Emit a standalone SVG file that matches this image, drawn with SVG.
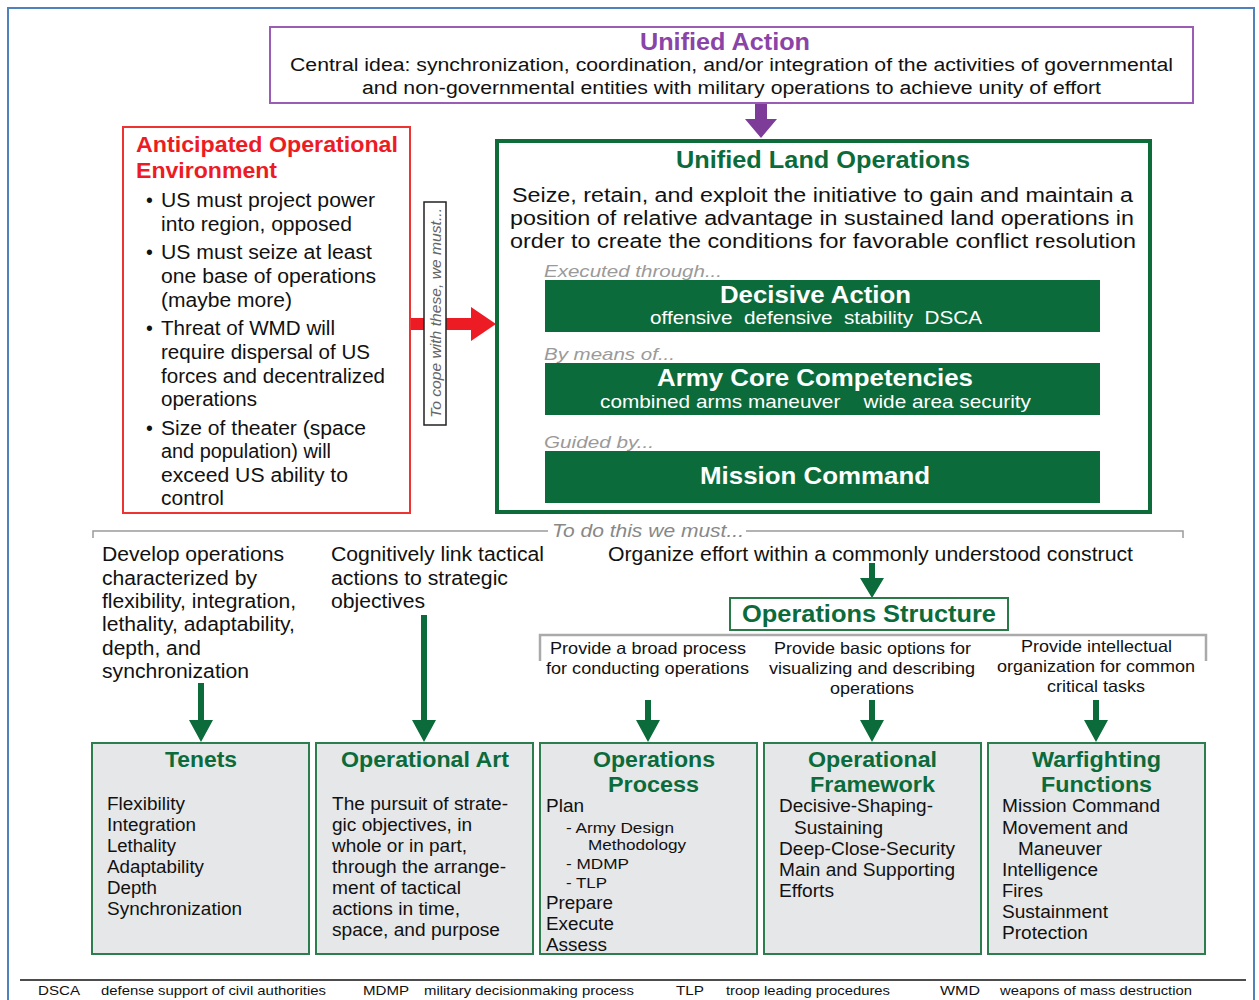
<svg xmlns="http://www.w3.org/2000/svg" width="1259" height="1000" viewBox="0 0 1259 1000">
<style>
text{font-family:"Liberation Sans",Arial,Helvetica,sans-serif;fill:#111}
.b{font-weight:bold}
.it{font-style:italic;fill:#9a9a9a}
.ua{fill:#8a44a8}
.red{fill:#ed1c24}
.gr{fill:#0b6b3a}
.w{fill:#fff}
.bar{fill:#0b6b3a}
.bx{fill:#e6e7e8;stroke:#2e7d4f;stroke-width:2}
.ga{fill:#0b6b3a}
.s195{font-size:19.5px}
.s18{font-size:18px}
.s175{font-size:17.5px}
.s165{font-size:16.5px}
.s135{font-size:13.5px}
</style>
<rect x="8" y="8" width="1246" height="1010" fill="#fff" stroke="#4f81bd" stroke-width="2"/>

<g id="connectors">
  <polygon points="755,103 767,103 767,119 777,119 761,138 745,119 755,119" fill="#7d3c98"/>
  <polygon points="410,318 471,318 471,307 496,324 471,341 471,330 410,330" fill="#ed1c24"/>
  <path d="M93,538 V531 H548 M746,531 H1183 V538" fill="none" stroke="#9a9a9a" stroke-width="1.5"/>
  <path d="M540,661 V635 H1206 V661" fill="none" stroke="#aaaaaa" stroke-width="2.5"/>
  <polygon class="ga" points="869,563 875,563 875,578 884,578 872,598 860,578 869,578"/>
  <polygon class="ga" points="198,683 204,683 204,720 213,720 201,742 189,720 198,720"/>
  <polygon class="ga" points="421,615 427,615 427,720 436,720 424,742 412,720 421,720"/>
  <polygon class="ga" points="645,700 651,700 651,720 660,720 648,742 636,720 645,720"/>
  <polygon class="ga" points="869,700 875,700 875,720 884,720 872,742 860,720 869,720"/>
  <polygon class="ga" points="1093,700 1099,700 1099,720 1108,720 1096,742 1084,720 1093,720"/>
</g>

<g id="unified-action">
  <rect x="270" y="27" width="923" height="76" fill="#fff" stroke="#9a5cb4" stroke-width="2"/>
  <text class="b ua" x="640" y="50" font-size="23" textLength="170" lengthAdjust="spacingAndGlyphs">Unified Action</text>
  <text class="s18" x="290" y="71" textLength="883" lengthAdjust="spacingAndGlyphs">Central idea: synchronization, coordination, and/or integration of the activities of governmental</text>
  <text class="s18" x="362" y="94" textLength="739" lengthAdjust="spacingAndGlyphs">and non-governmental entities with military operations to achieve unity of effort</text>
</g>

<g id="anticipated-oe">
  <rect x="123" y="127" width="287" height="386" fill="#fff" stroke="#ee3333" stroke-width="2"/>
  <text class="b red" x="136" y="152" font-size="22" textLength="262" lengthAdjust="spacingAndGlyphs">Anticipated Operational</text>
  <text class="b red" x="136" y="178" font-size="22" textLength="141" lengthAdjust="spacingAndGlyphs">Environment</text>
  <g class="s195">
    <text x="146" y="207">•</text><text x="146" y="259">•</text><text x="146" y="335">•</text><text x="146" y="435">•</text>
    <text x="161" y="207" textLength="214" lengthAdjust="spacingAndGlyphs">US must project power</text>
    <text x="161" y="231" textLength="191" lengthAdjust="spacingAndGlyphs">into region, opposed</text>
    <text x="161" y="259" textLength="211" lengthAdjust="spacingAndGlyphs">US must seize at least</text>
    <text x="161" y="283" textLength="215" lengthAdjust="spacingAndGlyphs">one base of operations</text>
    <text x="161" y="307" textLength="131" lengthAdjust="spacingAndGlyphs">(maybe more)</text>
    <text x="161" y="335" textLength="174" lengthAdjust="spacingAndGlyphs">Threat of WMD will</text>
    <text x="161" y="359" textLength="209" lengthAdjust="spacingAndGlyphs">require dispersal of US</text>
    <text x="161" y="383" textLength="224" lengthAdjust="spacingAndGlyphs">forces and decentralized</text>
    <text x="161" y="406" textLength="96" lengthAdjust="spacingAndGlyphs">operations</text>
    <text x="161" y="435" textLength="205" lengthAdjust="spacingAndGlyphs">Size of theater (space</text>
    <text x="161" y="458" textLength="170" lengthAdjust="spacingAndGlyphs">and population) will</text>
    <text x="161" y="482" textLength="187" lengthAdjust="spacingAndGlyphs">exceed US ability to</text>
    <text x="161" y="505" textLength="63" lengthAdjust="spacingAndGlyphs">control</text>
  </g>
</g>

<g id="cope-label">
  <rect x="424" y="202" width="22" height="223" fill="#fff" stroke="#222" stroke-width="1.5"/>
  <text transform="translate(441,313) rotate(-90)" text-anchor="middle" font-size="15" font-style="italic" style="fill:#666" textLength="210" lengthAdjust="spacingAndGlyphs">To cope with these, we must...</text>
</g>

<g id="unified-land-operations">
  <rect x="497" y="141" width="653" height="371" fill="none" stroke="#0e6b3a" stroke-width="4"/>
  <text class="b gr" x="676" y="168" font-size="23" textLength="294" lengthAdjust="spacingAndGlyphs">Unified Land Operations</text>
  <text x="512" y="202" font-size="20" textLength="621" lengthAdjust="spacingAndGlyphs">Seize, retain, and exploit the initiative to gain and maintain a</text>
  <text x="510" y="225" font-size="20" textLength="624" lengthAdjust="spacingAndGlyphs">position of relative advantage in sustained land operations in</text>
  <text x="510" y="248" font-size="20" textLength="626" lengthAdjust="spacingAndGlyphs">order to create the conditions for favorable conflict resolution</text>
</g>

<g id="decisive-action">
  <text class="it" x="544" y="277" font-size="17" textLength="178" lengthAdjust="spacingAndGlyphs">Executed through...</text>
  <rect class="bar" x="545" y="280" width="555" height="52"/>
  <text class="b w" x="720" y="303" font-size="24" textLength="191" lengthAdjust="spacingAndGlyphs">Decisive Action</text>
  <text class="w" x="650" y="324" font-size="19" textLength="332" lengthAdjust="spacingAndGlyphs" xml:space="preserve">offensive  defensive  stability  DSCA</text>
</g>

<g id="army-core-competencies">
  <text class="it" x="544" y="360" font-size="17" textLength="131" lengthAdjust="spacingAndGlyphs">By means of...</text>
  <rect class="bar" x="545" y="363" width="555" height="52"/>
  <text class="b w" x="657" y="386" font-size="24" textLength="316" lengthAdjust="spacingAndGlyphs">Army Core Competencies</text>
  <text class="w" x="600" y="408" font-size="19" textLength="431" lengthAdjust="spacingAndGlyphs" xml:space="preserve">combined arms maneuver    wide area security</text>
</g>

<g id="mission-command">
  <text class="it" x="544" y="448" font-size="17" textLength="110" lengthAdjust="spacingAndGlyphs">Guided by...</text>
  <rect class="bar" x="545" y="451" width="555" height="52"/>
  <text class="b w" x="700" y="484" font-size="24" textLength="230" lengthAdjust="spacingAndGlyphs">Mission Command</text>
</g>

<g id="to-do-this">
  <text x="552" y="537" font-size="18" font-style="italic" style="fill:#888" textLength="192" lengthAdjust="spacingAndGlyphs">To do this we must...</text>
</g>

<g id="develop-ops" class="s195">
  <text x="102" y="561" textLength="182" lengthAdjust="spacingAndGlyphs">Develop operations</text>
  <text x="102" y="585" textLength="155" lengthAdjust="spacingAndGlyphs">characterized by</text>
  <text x="102" y="608" textLength="194" lengthAdjust="spacingAndGlyphs">flexibility, integration,</text>
  <text x="102" y="631" textLength="193" lengthAdjust="spacingAndGlyphs">lethality, adaptability,</text>
  <text x="102" y="655" textLength="99" lengthAdjust="spacingAndGlyphs">depth, and</text>
  <text x="102" y="678" textLength="147" lengthAdjust="spacingAndGlyphs">synchronization</text>
</g>

<g id="cognitively-link" class="s195">
  <text x="331" y="561" textLength="213" lengthAdjust="spacingAndGlyphs">Cognitively link tactical</text>
  <text x="331" y="585" textLength="177" lengthAdjust="spacingAndGlyphs">actions to strategic</text>
  <text x="331" y="608" textLength="94" lengthAdjust="spacingAndGlyphs">objectives</text>
</g>

<g id="organize-effort" class="s195">
  <text x="608" y="561" textLength="525" lengthAdjust="spacingAndGlyphs">Organize effort within a commonly understood construct</text>
</g>

<g id="operations-structure">
  <rect x="730" y="598" width="278" height="32" fill="#fff" stroke="#2a7a48" stroke-width="2"/>
  <text class="b gr" x="742" y="622" font-size="23" textLength="254" lengthAdjust="spacingAndGlyphs">Operations Structure</text>
</g>

<g id="structure-labels" class="s165">
  <text x="550" y="654" textLength="196" lengthAdjust="spacingAndGlyphs">Provide a broad process</text>
  <text x="546" y="674" textLength="203" lengthAdjust="spacingAndGlyphs">for conducting operations</text>
  <text x="774" y="654" textLength="197" lengthAdjust="spacingAndGlyphs">Provide basic options for</text>
  <text x="769" y="674" textLength="206" lengthAdjust="spacingAndGlyphs">visualizing and describing</text>
  <text x="830" y="694" textLength="84" lengthAdjust="spacingAndGlyphs">operations</text>
  <text x="1021" y="652" textLength="151" lengthAdjust="spacingAndGlyphs">Provide intellectual</text>
  <text x="997" y="672" textLength="198" lengthAdjust="spacingAndGlyphs">organization for common</text>
  <text x="1047" y="692" textLength="98" lengthAdjust="spacingAndGlyphs">critical tasks</text>
</g>

<g id="tenets">
  <rect class="bx" x="92" y="743" width="217" height="211"/>
  <text class="b gr" x="165" y="767" font-size="22" textLength="72" lengthAdjust="spacingAndGlyphs">Tenets</text>
  <g class="s175">
    <text x="107" y="810" textLength="78" lengthAdjust="spacingAndGlyphs">Flexibility</text>
    <text x="107" y="831" textLength="89" lengthAdjust="spacingAndGlyphs">Integration</text>
    <text x="107" y="852" textLength="69" lengthAdjust="spacingAndGlyphs">Lethality</text>
    <text x="107" y="873" textLength="97" lengthAdjust="spacingAndGlyphs">Adaptability</text>
    <text x="107" y="894" textLength="50" lengthAdjust="spacingAndGlyphs">Depth</text>
    <text x="107" y="915" textLength="135" lengthAdjust="spacingAndGlyphs">Synchronization</text>
  </g>
</g>

<g id="operational-art">
  <rect class="bx" x="316" y="743" width="217" height="211"/>
  <text class="b gr" x="341" y="767" font-size="22" textLength="168" lengthAdjust="spacingAndGlyphs">Operational Art</text>
  <g class="s175">
    <text x="332" y="810" textLength="176" lengthAdjust="spacingAndGlyphs">The pursuit of strate-</text>
    <text x="332" y="831" textLength="140" lengthAdjust="spacingAndGlyphs">gic objectives, in</text>
    <text x="332" y="852" textLength="135" lengthAdjust="spacingAndGlyphs">whole or in part,</text>
    <text x="332" y="873" textLength="174" lengthAdjust="spacingAndGlyphs">through the arrange-</text>
    <text x="332" y="894" textLength="129" lengthAdjust="spacingAndGlyphs">ment of tactical</text>
    <text x="332" y="915" textLength="128" lengthAdjust="spacingAndGlyphs">actions in time,</text>
    <text x="332" y="936" textLength="168" lengthAdjust="spacingAndGlyphs">space, and purpose</text>
  </g>
</g>

<g id="operations-process">
  <rect class="bx" x="540" y="743" width="217" height="211"/>
  <text class="b gr" x="593" y="767" font-size="22" textLength="122" lengthAdjust="spacingAndGlyphs">Operations</text>
  <text class="b gr" x="608" y="792" font-size="22" textLength="91" lengthAdjust="spacingAndGlyphs">Process</text>
  <text class="s175" x="546" y="812" textLength="38" lengthAdjust="spacingAndGlyphs">Plan</text>
  <text x="566" y="833" font-size="15.5" textLength="108" lengthAdjust="spacingAndGlyphs">- Army Design</text>
  <text x="588" y="850" font-size="15.5" textLength="98" lengthAdjust="spacingAndGlyphs">Methodology</text>
  <text x="566" y="869" font-size="15.5" textLength="63" lengthAdjust="spacingAndGlyphs">- MDMP</text>
  <text x="566" y="888" font-size="15.5" textLength="41" lengthAdjust="spacingAndGlyphs">- TLP</text>
  <text class="s175" x="546" y="909" textLength="67" lengthAdjust="spacingAndGlyphs">Prepare</text>
  <text class="s175" x="546" y="930" textLength="68" lengthAdjust="spacingAndGlyphs">Execute</text>
  <text class="s175" x="546" y="951" textLength="61" lengthAdjust="spacingAndGlyphs">Assess</text>
</g>

<g id="operational-framework">
  <rect class="bx" x="764" y="743" width="217" height="211"/>
  <text class="b gr" x="808" y="767" font-size="22" textLength="129" lengthAdjust="spacingAndGlyphs">Operational</text>
  <text class="b gr" x="810" y="792" font-size="22" textLength="125" lengthAdjust="spacingAndGlyphs">Framework</text>
  <g class="s175">
    <text x="779" y="812" textLength="154" lengthAdjust="spacingAndGlyphs">Decisive-Shaping-</text>
    <text x="794" y="834" textLength="89" lengthAdjust="spacingAndGlyphs">Sustaining</text>
    <text x="779" y="855" textLength="176" lengthAdjust="spacingAndGlyphs">Deep-Close-Security</text>
    <text x="779" y="876" textLength="176" lengthAdjust="spacingAndGlyphs">Main and Supporting</text>
    <text x="779" y="897" textLength="55" lengthAdjust="spacingAndGlyphs">Efforts</text>
  </g>
</g>

<g id="warfighting-functions">
  <rect class="bx" x="988" y="743" width="217" height="211"/>
  <text class="b gr" x="1032" y="767" font-size="22" textLength="129" lengthAdjust="spacingAndGlyphs">Warfighting</text>
  <text class="b gr" x="1041" y="792" font-size="22" textLength="111" lengthAdjust="spacingAndGlyphs">Functions</text>
  <g class="s175">
    <text x="1002" y="812" textLength="158" lengthAdjust="spacingAndGlyphs">Mission Command</text>
    <text x="1002" y="834" textLength="126" lengthAdjust="spacingAndGlyphs">Movement and</text>
    <text x="1018" y="855" textLength="84" lengthAdjust="spacingAndGlyphs">Maneuver</text>
    <text x="1002" y="876" textLength="96" lengthAdjust="spacingAndGlyphs">Intelligence</text>
    <text x="1002" y="897" textLength="41" lengthAdjust="spacingAndGlyphs">Fires</text>
    <text x="1002" y="918" textLength="106" lengthAdjust="spacingAndGlyphs">Sustainment</text>
    <text x="1002" y="939" textLength="86" lengthAdjust="spacingAndGlyphs">Protection</text>
  </g>
</g>

<g id="legend">
  <line x1="20" y1="980" x2="1246" y2="980" stroke="#111" stroke-width="1.5"/>
  <g class="s135">
    <text x="38" y="995" textLength="42" lengthAdjust="spacingAndGlyphs">DSCA</text>
    <text x="101" y="995" textLength="225" lengthAdjust="spacingAndGlyphs">defense support of civil authorities</text>
    <text x="363" y="995" textLength="46" lengthAdjust="spacingAndGlyphs">MDMP</text>
    <text x="424" y="995" textLength="210" lengthAdjust="spacingAndGlyphs">military decisionmaking process</text>
    <text x="676" y="995" textLength="28" lengthAdjust="spacingAndGlyphs">TLP</text>
    <text x="726" y="995" textLength="164" lengthAdjust="spacingAndGlyphs">troop leading procedures</text>
    <text x="940" y="995" textLength="40" lengthAdjust="spacingAndGlyphs">WMD</text>
    <text x="1000" y="995" textLength="192" lengthAdjust="spacingAndGlyphs">weapons of mass destruction</text>
  </g>
</g>
</svg>
